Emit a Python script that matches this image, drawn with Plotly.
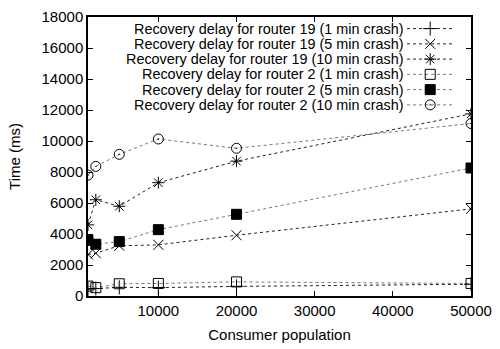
import plotly.graph_objects as go

# ---- data ----
population = [1000, 2000, 5000, 10000, 20000, 50000]
r19_1min = [450, 480, 560, 540, 620, 760]
r19_5min = [2680, 2760, 3240, 3300, 3920, 5620]
r19_10min = [4590, 6210, 5790, 7310, 8700, 11750]
r2_1min = [640, 540, 790, 810, 910, 810]
r2_5min = [3590, 3340, 3510, 4280, 5270, 8260]
r2_10min = [7800, 8360, 9140, 10130, 9530, 11130]

series_names = [
    "Recovery delay for router 19 (1 min crash)",
    "Recovery delay for router 19 (5 min crash)",
    "Recovery delay for router 19 (10 min crash)",
    "Recovery delay for router 2 (1 min crash)",
    "Recovery delay for router 2 (5 min crash)",
    "Recovery delay for router 2 (10 min crash)",
]
series_values = [r19_1min, r19_5min, r19_10min, r2_1min, r2_5min, r2_10min]
x_ticks = [10000, 20000, 30000, 40000, 50000]
y_ticks = list(range(0, 18001, 2000))

# ---- styles ----
symbols = ["cross-thin", "x-thin", "asterisk", "square-open", "square", "circle-open-dot"]
sizes = [10, 10, 10, 10, 10, 10]
line_colors = ["#222222", "#222222", "#222222", "#777777", "#777777", "#777777"]
FONT = "Liberation Sans, Arial, Helvetica, sans-serif"

fig = go.Figure()
for name, vals, sym, sz, lc in zip(series_names, series_values, symbols, sizes, line_colors):
    fig.add_trace(go.Scatter(
        x=population, y=vals, mode="lines+markers", name=name,
        line=dict(color=lc, width=1, dash="dot"),
        marker=dict(symbol=sym, size=sz, color="black",
                    line=dict(color="black", width=1)),
        showlegend=False, xaxis="x", yaxis="y",
    ))

# ---- gnuplot-style key (text right, sample on the right) ----
row_y = [0.9585, 0.9038, 0.8491, 0.7945, 0.7398, 0.6851]
for i, (name, sym, sz, lc) in enumerate(zip(series_names, symbols, sizes, line_colors)):
    yy = row_y[i]
    fig.add_trace(go.Scatter(
        x=[0.833, 0.954], y=[yy, yy], mode="lines",
        line=dict(color=lc, width=1, dash="dot"),
        showlegend=False, hoverinfo="skip", xaxis="x2", yaxis="y2",
    ))
    fig.add_trace(go.Scatter(
        x=[0.8935], y=[yy], mode="markers",
        marker=dict(symbol=sym, size=sz, color="black",
                    line=dict(color="black", width=1)),
        showlegend=False, hoverinfo="skip", xaxis="x2", yaxis="y2",
    ))
    fig.add_annotation(
        x=0.827, y=yy, xref="x2", yref="y2", text=name, showarrow=False,
        xanchor="right", yanchor="middle", borderpad=0,
        font=dict(family=FONT, size=14.4, color="black"),
    )

axis_common = dict(
    showgrid=False, zeroline=False, showline=True, linecolor="black", linewidth=1.5,
    mirror="ticks", ticks="inside", ticklen=5, tickcolor="black", tickwidth=1,
    tickfont=dict(family=FONT, size=15, color="black"), tickformat="d",
)

fig.update_layout(
    width=500, height=349,
    margin=dict(l=88, r=22, t=8, b=52),
    paper_bgcolor="white", plot_bgcolor="white",
    font=dict(family=FONT, size=15, color="black"),
    xaxis=dict(range=[1000, 50000], tickvals=x_ticks,
               title=dict(text="Consumer population",
                          font=dict(family=FONT, size=15, color="black"), standoff=12),
               **axis_common),
    yaxis=dict(range=[0, 18000], tickvals=y_ticks,
               title=dict(text="Time (ms)",
                          font=dict(family=FONT, size=15, color="black"), standoff=17),
               **axis_common),
    xaxis2=dict(overlaying="x", range=[0, 1], visible=False, fixedrange=True),
    yaxis2=dict(overlaying="y", range=[0, 1], visible=False, fixedrange=True),
)

fig.write_html("out.html")
